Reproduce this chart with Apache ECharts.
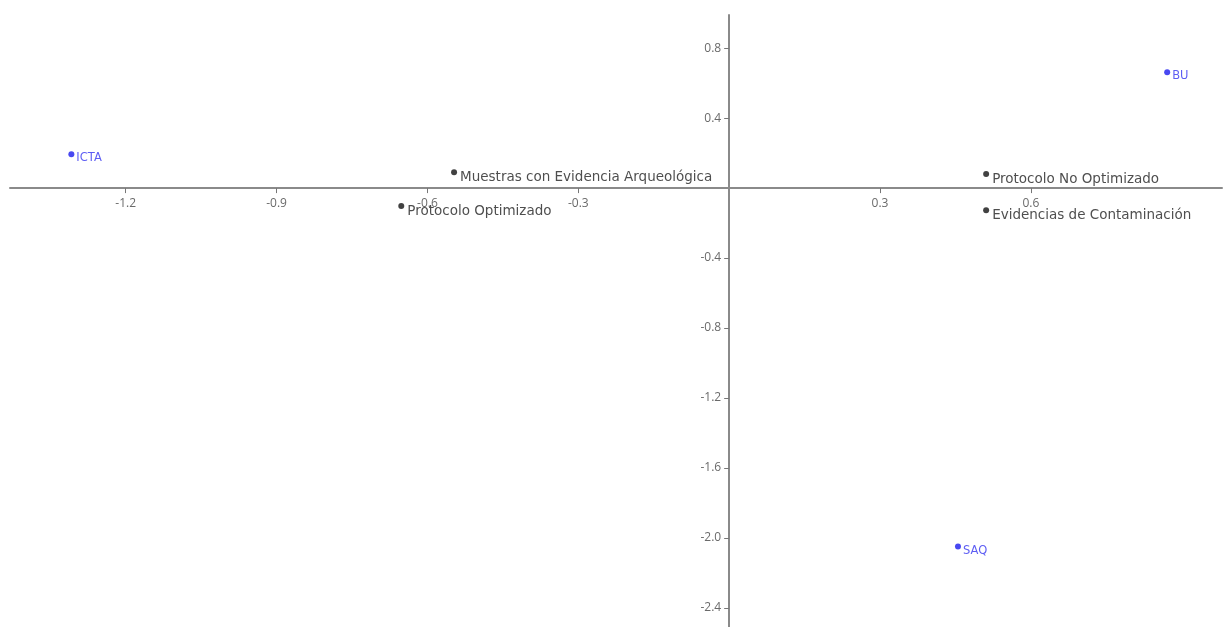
<!DOCTYPE html>
<html>
<head>
<meta charset="utf-8">
<script src="https://cdn.jsdelivr.net/npm/echarts@6/dist/echarts.min.js"></script>
<style>
html,body{margin:0;padding:0;background:#fff;}
#chart{width:1224px;height:627px;}
</style>
</head>
<body>
<div id="chart"></div>
<script>
// Data
const siteNames = ["ICTA", "BU", "SAQ"];
const siteX = [-1.308, 0.871, 0.455];
const siteY = [0.194, 0.663, -2.05];

const varNames = ["Muestras con Evidencia Arqueológica", "Protocolo Optimizado", "Protocolo No Optimizado", "Evidencias de Contaminación"];
const varX = [-0.547, -0.652, 0.511, 0.511];
const varY = [0.091, -0.103, 0.08, -0.126];

const xTickLabels = [-1.2, -0.9, -0.6, -0.3, 0.3, 0.6];
const yTickLabels = [0.8, 0.4, -0.4, -0.8, -1.2, -1.6, -2.0, -2.4];

const sitePoints = siteNames.map((n, i) => ({ name: n, value: [siteX[i], siteY[i]] }));
const varPoints = varNames.map((n, i) => ({ name: n, value: [varX[i], varY[i]] }));

const W = 1224, H = 627;
const G = { left: 10, right: 2, top: 15, bottom: 0 };
const xMin = -1.43, xMax = 0.98, yMin = -2.51, yMax = 0.99;
const gw = W - G.left - G.right, gh = H - G.top - G.bottom;
// move axes (line, ticks and labels) so they cross at the origin
const xAxisOffset = -(gh * (0 - yMin) / (yMax - yMin));
const yAxisOffset = -(gw * (0 - xMin) / (xMax - xMin));

const fontFam = "'Open Sans', 'Noto Sans', sans-serif";
const labelFam = "'DejaVu Sans', 'Open Sans', sans-serif";
const axisLineStyle = { color: '#8a8a8a', width: 2 };

const chart = echarts.init(document.getElementById('chart'), null, { renderer: 'canvas' });
chart.setOption({
  animation: false,
  backgroundColor: '#ffffff',
  grid: Object.assign({ containLabel: false, outerBoundsMode: 'none' }, G),
  xAxis: {
    type: 'value',
    min: xMin,
    max: xMax,
    position: 'bottom',
    offset: xAxisOffset,
    splitLine: { show: false },
    axisLine: { show: true, onZero: false, lineStyle: axisLineStyle },
    axisTick: { show: true, length: 5, lineStyle: { color: '#777', width: 1 }, customValues: xTickLabels },
    axisLabel: {
      show: true, color: '#6a6a6a', fontSize: 12, fontFamily: fontFam, margin: 9,
      customValues: xTickLabels,
      formatter: v => (Math.round(v * 10) / 10).toString()
    }
  },
  yAxis: {
    type: 'value',
    min: yMin,
    max: yMax,
    position: 'left',
    offset: yAxisOffset,
    splitLine: { show: false },
    axisLine: { show: true, onZero: false, lineStyle: axisLineStyle },
    axisTick: { show: true, length: 5, lineStyle: { color: '#777', width: 1 }, customValues: yTickLabels },
    axisLabel: {
      show: true, color: '#6a6a6a', fontSize: 12, fontFamily: fontFam, margin: 8,
      customValues: yTickLabels,
      formatter: v => (Math.round(v * 10) / 10).toFixed(1)
    }
  },
  series: [
    {
      type: 'scatter',
      data: sitePoints,
      symbol: 'circle',
      symbolSize: 6,
      itemStyle: { color: '#1a1aee' },
      label: {
        show: true, position: 'right', distance: 2, offset: [0, 4],
        formatter: p => p.name, color: '#3535f0', fontSize: 11.5, fontFamily: labelFam
      }
    },
    {
      type: 'scatter',
      data: varPoints,
      symbol: 'circle',
      symbolSize: 6,
      itemStyle: { color: '#111' },
      label: {
        show: true, position: 'right', distance: 3, offset: [0, 5],
        formatter: p => p.name, color: '#222', fontSize: 13.5, fontFamily: labelFam
      }
    }
  ]
});
</script>
</body>
</html>
